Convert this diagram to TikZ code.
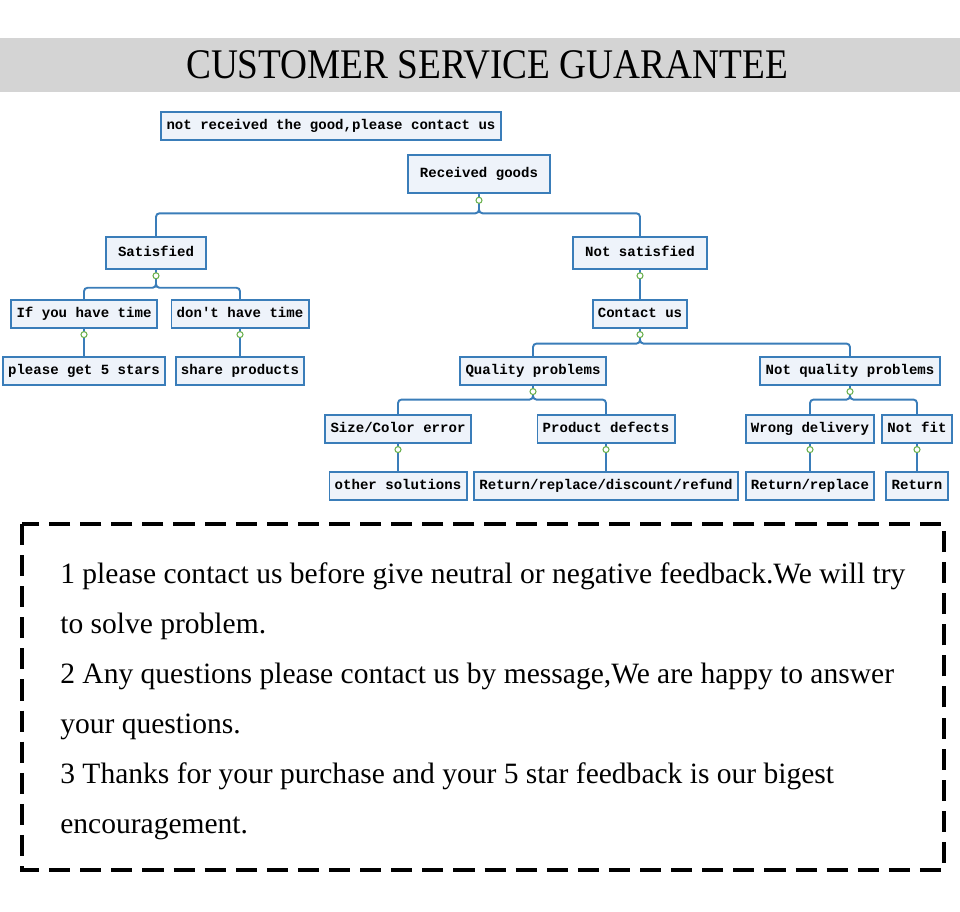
\documentclass[tikz,border=0pt]{standalone}
\usepackage{fontspec}
\usepackage{graphicx}
\setmainfont{Liberation Serif}
\newfontfamily\boxfont{Liberation Mono}
\definecolor{boxblue}{HTML}{3A7DB9}
\definecolor{boxfill}{HTML}{EEF3FA}
\definecolor{dotgreen}{HTML}{6AB04C}
\definecolor{band}{HTML}{D4D4D4}

\begin{document}
\begin{tikzpicture}[
        x=0.02cm, y=-0.02cm,
        box/.style={draw=boxblue, fill=boxfill, line width=1.1pt, inner xsep=3pt,
            text height=6pt, text depth=2pt,
            minimum height=15.5pt, font=\boxfont\bfseries\fontsize{8}{9}\selectfont},
        link/.style={draw=boxblue, line width=1.1pt, rounded corners=2pt},
        knob/.style={draw=dotgreen, fill=white, line width=0.6pt},
        note/.style={anchor=base west, inner sep=0pt, font=\fontsize{16.8}{20}\selectfont}
        ]
            \useasboundingbox (0,0) rectangle (960,912);

            % Title
            \fill[band] (0,38) rectangle (960,92);
            \node (title) at (487,65) {\fontsize{24}{24}\selectfont\scalebox{0.885}[1]{CUSTOMER SERVICE GUARANTEE}};

            % Top
            \node[box] (notrecv) at (331,126) {not received the good,please contact us};
            \node[box, minimum height=22pt, inner xsep=7pt] (recv) at (479,174) {Received goods};

            % Satisfied branch
            \node[box, minimum height=18pt, inner xsep=7pt] (sat) at (156,253) {Satisfied};
            \node[box] (havetime) at (84,314) {If you have time};
            \node[box] (notime) at (240,314) {don't have time};
            \node[box] (stars) at (84,371) {please get 5 stars};
            \node[box] (share) at (240,371) {share products};

            % Not satisfied branch
            \node[box, minimum height=18pt, inner xsep=7pt] (nsat) at (640,253) {Not satisfied};
            \node[box] (contact) at (640,314) {Contact us};
            \node[box] (quality) at (533,371) {Quality problems};
            \node[box] (nquality) at (850,371) {Not quality problems};
            \node[box] (size) at (398,429) {Size/Color error};
            \node[box] (defect) at (606,429) {Product defects};
            \node[box] (wrong) at (810,429) {Wrong delivery};
            \node[box] (notfit) at (917,429) {Not fit};
            \node[box] (other) at (398,486) {other solutions};
            \node[box] (refund) at (606,486) {Return/replace/discount/refund};
            \node[box] (replace) at (810,486) {Return/replace};
            \node[box] (return) at (917,486) {Return};

            % Connectors
            \draw[link] (recv.south) -- ++(0,19) -| (sat.north);
            \draw[link] (recv.south) -- ++(0,19) -| (nsat.north);
            \draw[link] (sat.south) -- ++(0,18) -| (havetime.north);
            \draw[link] (sat.south) -- ++(0,18) -| (notime.north);
            \draw[link] (havetime.south) -- (stars.north);
            \draw[link] (notime.south) -- (share.north);
            \draw[link] (nsat.south) -- (contact.north);
            \draw[link] (contact.south) -- ++(0,15) -| (quality.north);
            \draw[link] (contact.south) -- ++(0,15) -| (nquality.north);
            \draw[link] (quality.south) -- ++(0,14) -| (size.north);
            \draw[link] (quality.south) -- ++(0,14) -| (defect.north);
            \draw[link] (nquality.south) -- ++(0,14) -| (wrong.north);
            \draw[link] (nquality.south) -- ++(0,14) -| (notfit.north);
            \draw[link] (size.south) -- (other.north);
            \draw[link] (defect.south) -- (refund.north);
            \draw[link] (wrong.south) -- (replace.north);
            \draw[link] (notfit.south) -- (return.north);

            % Knobs
            \foreach \n in {recv,sat,havetime,notime,nsat,contact,quality,nquality,size,defect,wrong,notfit}
                \draw[knob] (\n.south) ++(0,6) circle (3);

            % Notes
            \draw[line width=2.3pt, dash pattern=on 12pt off 5.7pt] (22,524) rectangle (944,870);
            \node[note] (l1) at (60,583) {1 please contact us before give neutral or negative feedback.We will try};
            \node[note] (l2) at (60,633) {to solve problem.};
            \node[note] (l3) at (60,683) {2 Any questions please contact us by message,We are happy to answer};
            \node[note] (l4) at (60,733) {your questions.};
            \node[note] (l5) at (60,783) {3 Thanks for your purchase and your 5 star feedback is our bigest};
            \node[note] (l6) at (60,833) {encouragement.};
        \end{tikzpicture}
\end{document}
